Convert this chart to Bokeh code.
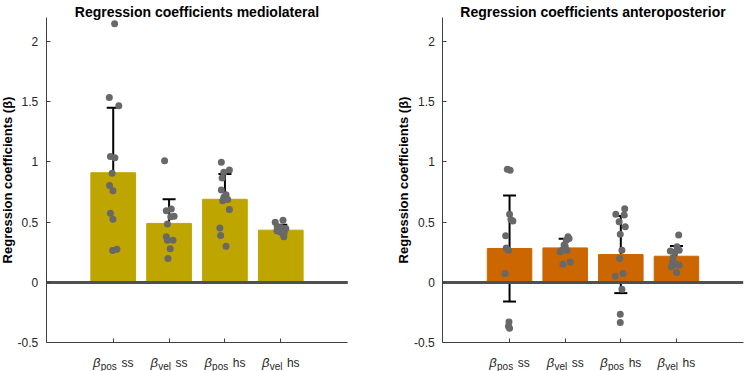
from bokeh.plotting import figure
from bokeh.models import Range1d, Whisker, TeeHead, ColumnDataSource, Label, FixedTicker
from bokeh.layouts import row
from bokeh.embed import file_html
from bokeh.resources import INLINE

# ---------------- data ----------------
categories = [1, 2, 3, 4]
sub_labels = ["pos", "vel", "pos", "vel"]
suffix_labels = ["ss", "ss", "hs", "hs"]
y_ticks = [-0.5, 0, 0.5, 1, 1.5, 2]
y_tick_labels = ["-0.5", "0", "0.5", "1", "1.5", "2"]

titles = ["Regression coefficients mediolateral", "Regression coefficients anteroposterior"]
y_title = "Regression coefficients (β)"

ml_means = [0.91, 0.49, 0.69, 0.434]
ml_sd = [0.54, 0.20, 0.21, 0.045]
ap_means = [0.282, 0.287, 0.232, 0.218]
ap_sd = [0.44, 0.076, 0.32, 0.085]

ml_pos_ss = [2.145, 1.535, 1.465, 1.045, 1.035, 0.905, 0.805, 0.76, 0.575, 0.525, 0.265, 0.275]
ml_pos_ss_jit = [0.025, -0.07, 0.10, -0.05, 0.03, -0.02, -0.065, -0.005, -0.05, -0.005, -0.01, 0.065]
ml_vel_ss = [1.01, 0.61, 0.595, 0.55, 0.545, 0.485, 0.38, 0.35, 0.35, 0.28, 0.20]
ml_vel_ss_jit = [-0.08, 0.04, -0.05, 0.09, 0.03, -0.03, -0.05, -0.03, 0.07, 0.02, -0.02]
ml_pos_hs = [0.997, 0.933, 0.914, 0.866, 0.767, 0.728, 0.706, 0.689, 0.678, 0.606, 0.451, 0.39, 0.30]
ml_pos_hs_jit = [-0.064, 0.08, -0.02, -0.05, -0.064, 0.02, -0.02, 0.05, -0.04, 0.08, -0.09, -0.077, 0.02]
ml_vel_hs = [0.50, 0.517, 0.462, 0.457, 0.448, 0.429, 0.418, 0.407, 0.379, 0.435, 0.41]
ml_vel_hs_jit = [-0.1, 0.04, -0.064, 0.007, 0.09, -0.07, -0.01, 0.036, 0.054, -0.03, 0.06]

ap_pos_ss = [0.94, 0.93, 0.567, 0.52, 0.51, 0.387, 0.287, 0.268, 0.075, -0.327, -0.363, -0.38]
ap_pos_ss_jit = [-0.04, 0.01, 0.0, 0.025, 0.06, -0.07, -0.06, -0.02, -0.08, -0.01, -0.02, 0.0]
ap_vel_ss = [0.379, 0.365, 0.351, 0.31, 0.268, 0.268, 0.254, 0.169, 0.152, 0.30]
ap_vel_ss_jit = [0.05, 0.07, 0.02, -0.02, -0.06, 0.03, -0.09, 0.09, -0.04, 0.0]
ap_pos_hs = [0.611, 0.565, 0.56, 0.503, 0.462, 0.40, 0.268, 0.199, 0.052, 0.075, -0.056, -0.263, -0.332]
ap_pos_hs_jit = [0.07, -0.09, 0.06, -0.03, 0.08, -0.01, 0.02, -0.02, -0.1, 0.04, 0.02, -0.01, -0.01]
ap_vel_hs = [0.393, 0.296, 0.262, 0.268, 0.25, 0.207, 0.171, 0.152, 0.13, 0.144, 0.083]
ap_vel_hs_jit = [0.04, 0.01, -0.11, 0.05, -0.03, -0.06, -0.07, 0.0, -0.09, 0.05, 0.0]

ml_points = [ml_pos_ss, ml_vel_ss, ml_pos_hs, ml_vel_hs]
ml_jitter = [ml_pos_ss_jit, ml_vel_ss_jit, ml_pos_hs_jit, ml_vel_hs_jit]
ap_points = [ap_pos_ss, ap_vel_ss, ap_pos_hs, ap_vel_hs]
ap_jitter = [ap_pos_ss_jit, ap_vel_ss_jit, ap_pos_hs_jit, ap_vel_hs_jit]

# ---------------- style ----------------
FONT = "Liberation Sans"
TXT = "#262626"
AX = "#404040"
H = 371
Y_LO, Y_HI = -0.5, 2.2            # visible y axis extent
X_LO, X_HI = -0.2, 5.2            # visible x axis extent
PX_TOP, PX_BOT = 16.7, 342.3      # where the y extent sits on the canvas
YSCALE = (PX_BOT - PX_TOP) / (Y_HI - Y_LO)


def panel(title, means, sds, points, jitter, color, width, px_left, px_right):
    xscale = (px_right - px_left) / (X_HI - X_LO)
    x_range = Range1d(X_LO - px_left / xscale, X_HI + (width - px_right) / xscale)
    y_range = Range1d(Y_LO - (H - PX_BOT) / YSCALE, Y_HI + PX_TOP / YSCALE)
    p = figure(width=width, height=H, output_backend="svg", toolbar_location=None,
               x_range=x_range, y_range=y_range,
               min_border_left=0, min_border_right=0,
               min_border_top=0, min_border_bottom=0)
    p.title.visible = False
    p.outline_line_color = None
    p.grid.visible = False
    p.background_fill_color = "white"
    p.border_fill_color = "white"

    # axes (placed inside the frame at the visible extent)
    p.yaxis.ticker = FixedTicker(ticks=y_ticks)
    p.yaxis.major_label_overrides = {t: l for t, l in zip(y_ticks, y_tick_labels)}
    p.yaxis.bounds = (Y_LO, Y_HI)
    p.yaxis.fixed_location = X_LO
    p.xaxis.ticker = FixedTicker(ticks=categories)
    p.xaxis.bounds = (X_LO, X_HI)
    p.xaxis.fixed_location = Y_LO
    p.xaxis.major_label_text_color = None
    for ax in (p.xaxis[0], p.yaxis[0]):
        ax.axis_line_color = AX
        ax.axis_line_width = 1
        ax.major_tick_line_color = AX
        ax.major_tick_in = 4
        ax.major_tick_out = 0
        ax.minor_tick_line_color = None
        ax.major_label_text_font = FONT
    p.yaxis.major_label_text_color = TXT
    p.yaxis.major_label_text_font_size = "12px"
    p.yaxis.major_label_standoff = 8
    p.yaxis.axis_label = y_title
    p.yaxis.axis_label_text_font = FONT
    p.yaxis.axis_label_text_font_style = "bold"
    p.yaxis.axis_label_text_font_size = "13px"
    p.yaxis.axis_label_text_color = "black"
    p.yaxis.axis_label_standoff = 0

    # bars
    src = ColumnDataSource(dict(x=categories, top=means,
                                lower=[m - s for m, s in zip(means, sds)],
                                upper=[m + s for m, s in zip(means, sds)]))
    p.vbar(x="x", top="top", bottom=0, width=0.8, source=src,
           fill_color=color, line_color=color, line_width=1)

    # zero line across the axis extent
    p.segment(x0=[X_LO], x1=[X_HI], y0=[0], y1=[0], line_color="#505050", line_width=3)

    # error bars
    p.add_layout(Whisker(source=src, base="x", lower="lower", upper="upper",
                         line_color="black", line_width=2,
                         upper_head=TeeHead(size=13, line_color="black", line_width=2),
                         lower_head=TeeHead(size=13, line_color="black", line_width=2)))

    # individual points
    xs, ys = [], []
    for c, vals, jit in zip(categories, points, jitter):
        for v, j in zip(vals, jit):
            xs.append(c + j)
            ys.append(v)
    p.scatter(xs, ys, size=7, fill_color="#686868", line_color=None)

    # title
    p.add_layout(Label(x=(X_LO + X_HI) / 2, y=Y_HI, y_offset=5.2, text=title,
                       text_align="center", text_baseline="alphabetic", text_font=FONT,
                       text_font_style="bold", text_font_size="14px", text_color="black"))

    # x tick labels: beta with subscript + suffix
    beta_w, gap1, gap2 = 7.0, 0.7, 4.0
    sub_w = {"pos": 16.7, "vel": 13.3}
    suf_w = {"ss": 12.0, "hs": 12.7}
    for c, sub, suf in zip(categories, sub_labels, suffix_labels):
        total = beta_w + gap1 + sub_w[sub] + gap2 + suf_w[suf]
        left = -total / 2
        p.add_layout(Label(x=c, y=Y_LO, x_offset=left, y_offset=-19.7, text="β",
                           text_align="left", text_baseline="alphabetic", text_font=FONT,
                           text_font_style="italic", text_font_size="13px", text_color=TXT))
        p.add_layout(Label(x=c, y=Y_LO, x_offset=left + beta_w + gap1, y_offset=-24,
                           text=sub, text_align="left", text_baseline="alphabetic",
                           text_font=FONT, text_font_size="10px", text_color=TXT))
        p.add_layout(Label(x=c, y=Y_LO, x_offset=left + beta_w + gap1 + sub_w[sub] + gap2,
                           y_offset=-19.7, text=suf, text_align="left",
                           text_baseline="alphabetic", text_font=FONT,
                           text_font_size="12px", text_color=TXT))
    return p


p1 = panel(titles[0], ml_means, ml_sd, ml_points, ml_jitter, "#BFA500", 372, 45.7, 347.3)
p2 = panel(titles[1], ap_means, ap_sd, ap_points, ap_jitter, "#CC6600", 373, 70.3, 370.7)

layout = row(p1, p2)
open("out.html", "w").write(file_html(layout, INLINE))
